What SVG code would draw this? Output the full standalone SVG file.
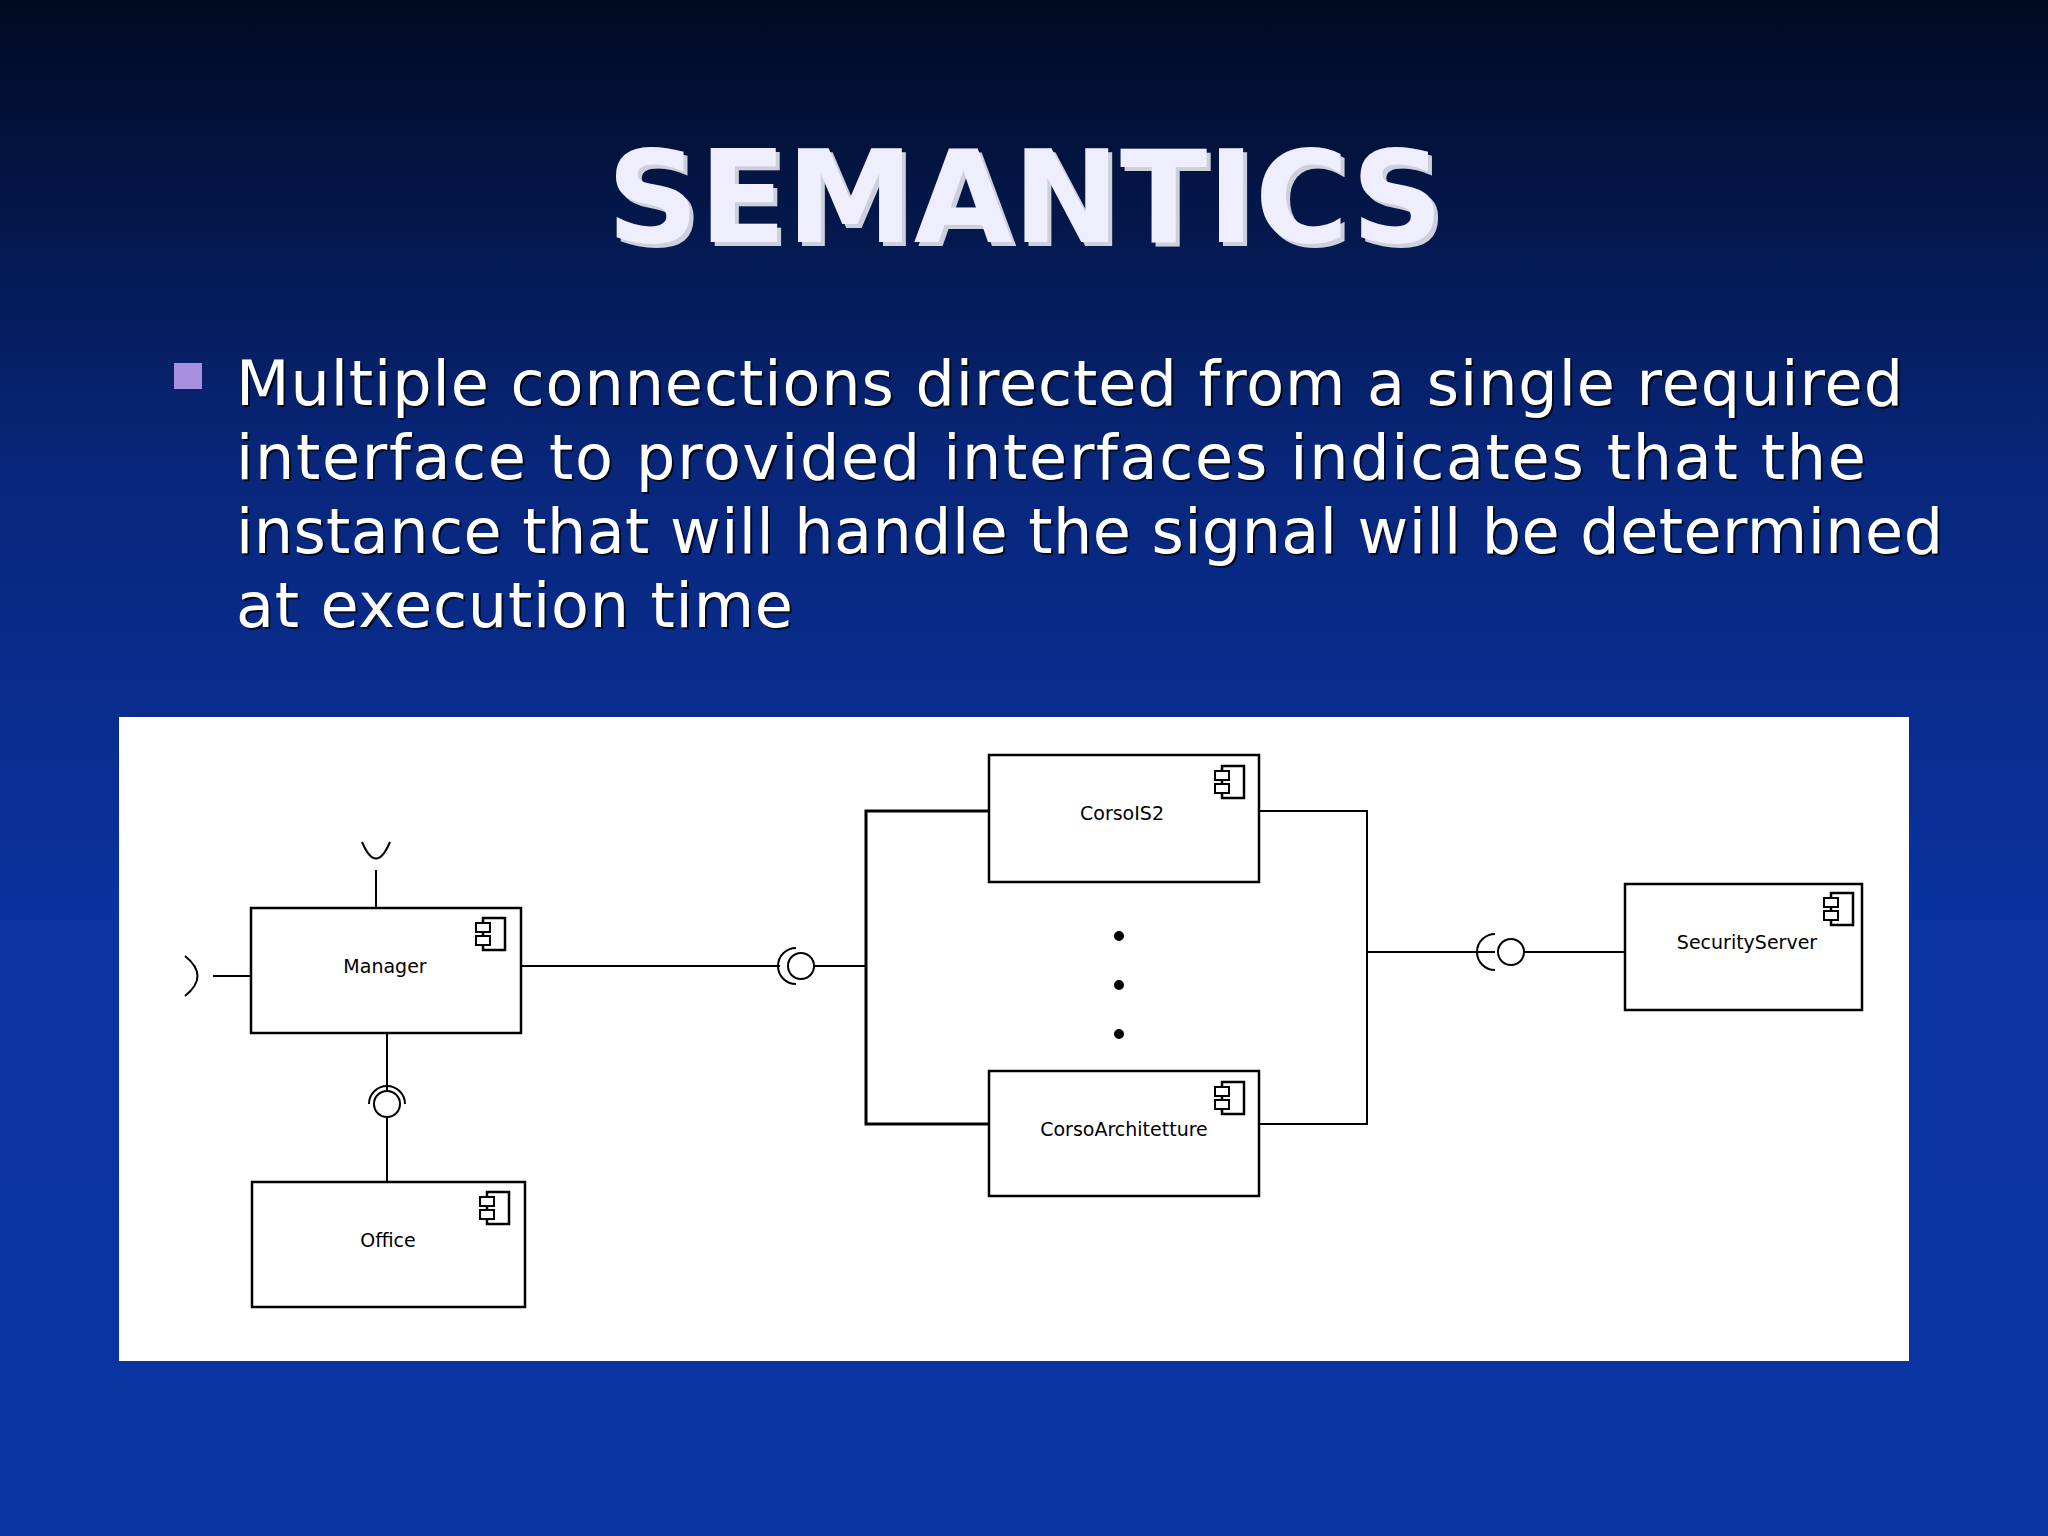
<svg xmlns="http://www.w3.org/2000/svg" width="2048" height="1536" viewBox="0 0 2048 1536">
<defs>
<linearGradient id="bg" x1="0" y1="0" x2="0" y2="1">
<stop offset="0" stop-color="#000a22"/><stop offset="0.3" stop-color="#08267a"/><stop offset="0.6" stop-color="#0a33a0"/><stop offset="1" stop-color="#0a35a0"/>
</linearGradient>
<g id="icon"><rect x="0" y="0" width="22" height="32" fill="#fff" stroke="#000" stroke-width="2.5"/><rect x="-7" y="5" width="14" height="9" fill="#fff" stroke="#000" stroke-width="2"/><rect x="-7" y="18" width="14" height="9" fill="#fff" stroke="#000" stroke-width="2"/></g>
</defs>
<style>
.t{font-family:"Comic Sans MS","DejaVu Sans",sans-serif;fill:#fff}
.b{fill:#fff;stroke:#000;stroke-width:2.5}
.l{fill:none;stroke:#000;stroke-width:2}
.n{font-family:"DejaVu Sans",sans-serif;font-size:19px;fill:#000;text-anchor:middle}
</style>
<rect width="2048" height="1536" fill="url(#bg)"/>
<text class="t" x="1029" y="246" font-size="128" font-weight="bold" text-anchor="middle" fill="#000" opacity="0.8">SEMANTICS</text>
<text class="t" x="1025" y="242" font-size="128" font-weight="bold" text-anchor="middle" style="fill:#eef">SEMANTICS</text>
<rect x="174" y="363" width="28" height="26" fill="#a890e0"/>
<g class="t" font-size="62">
<text x="238" y="407" fill="#000" style="fill:#000" opacity="0.7" textLength="1667">Multiple connections directed from a single required</text>
<text x="236" y="405" textLength="1667">Multiple connections directed from a single required</text>
<text x="238" y="481" style="fill:#000" opacity="0.7" textLength="1630">interface to provided interfaces indicates that the</text>
<text x="236" y="479" textLength="1630">interface to provided interfaces indicates that the</text>
<text x="238" y="555" style="fill:#000" opacity="0.7" textLength="1707">instance that will handle the signal will be determined</text>
<text x="236" y="553" textLength="1707">instance that will handle the signal will be determined</text>
<text x="238" y="629" style="fill:#000" opacity="0.7" textLength="557">at execution time</text>
<text x="236" y="627" textLength="557">at execution time</text>
</g>
<rect x="119" y="717" width="1790" height="644" fill="#fff"/>
<g id="connectors" class="l">
<path d="M376 908V870"/><path d="M362 842 Q376 875 390 842"/>
<path d="M251 976H213"/><path d="M185 956 Q210 976 185 996"/>
<path d="M387 1033V1090"/><circle cx="387" cy="1104" r="13"/><path d="M369 1104 A18 18 0 0 1 405 1104"/><path d="M387 1118V1182"/>
<path d="M521 966H780"/><circle cx="801" cy="966" r="13"/><path d="M796 948 A18 18 0 0 0 796 984"/><path d="M814 966H866"/>
<path d="M989 811H866V1124H989" stroke-width="3"/>
<path d="M1259 811H1367V1124H1259"/>
<path d="M1367 952H1495"/><path d="M1495 934 A18 18 0 0 0 1495 970"/><circle cx="1511" cy="952" r="13"/><path d="M1524 952H1625"/>
<circle cx="1119" cy="936" r="4" fill="#000"/><circle cx="1119" cy="985" r="4" fill="#000"/><circle cx="1119" cy="1034" r="4" fill="#000"/>
</g>
<g id="manager"><rect class="b" x="251" y="908" width="270" height="125"/><use href="#icon" x="483" y="918"/><text class="n" x="385" y="973">Manager</text></g>
<g id="office"><rect class="b" x="252" y="1182" width="273" height="125"/><use href="#icon" x="487" y="1192"/><text class="n" x="388" y="1247">Office</text></g>
<g id="corsois2"><rect class="b" x="989" y="755" width="270" height="127"/><use href="#icon" x="1222" y="766"/><text class="n" x="1122" y="820">CorsoIS2</text></g>
<g id="corsoarch"><rect class="b" x="989" y="1071" width="270" height="125"/><use href="#icon" x="1222" y="1082"/><text class="n" x="1124" y="1136">CorsoArchitetture</text></g>
<g id="security"><rect class="b" x="1625" y="884" width="237" height="126"/><use href="#icon" x="1831" y="893"/><text class="n" x="1747" y="949">SecurityServer</text></g>
</svg>
